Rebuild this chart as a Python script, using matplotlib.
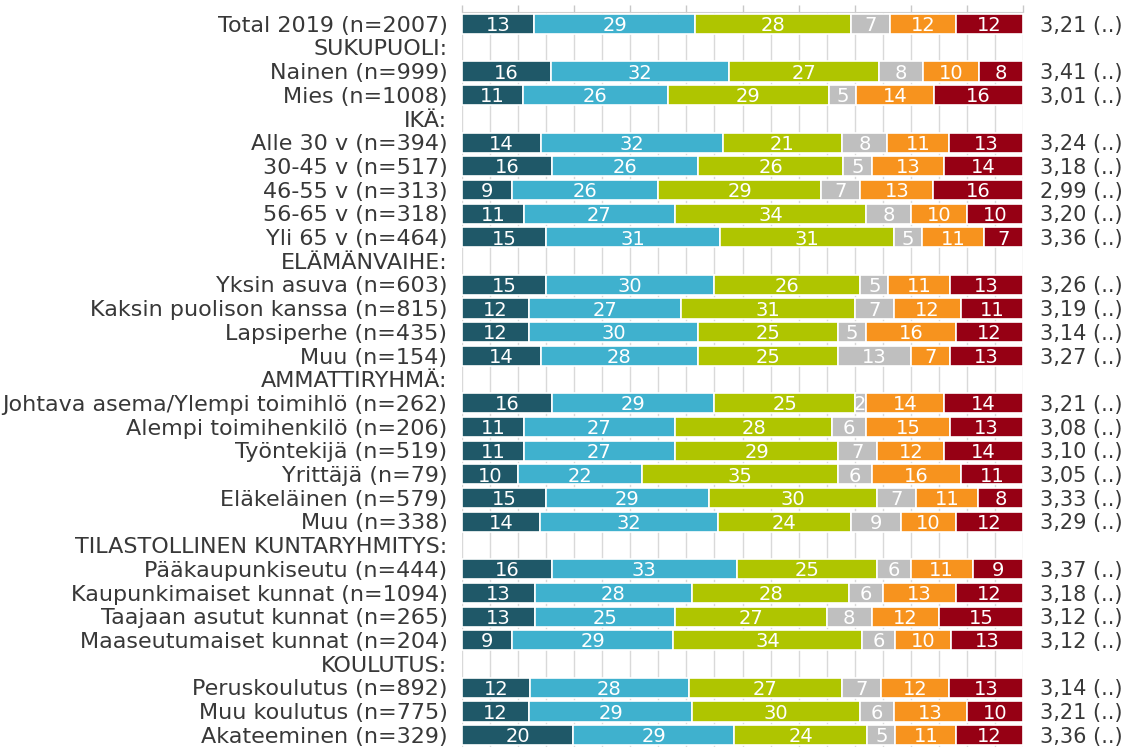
import numpy as np
import matplotlib.pyplot as plt
from matplotlib.ticker import MultipleLocator

plt.rcParams['font.family'] = ['DejaVu Sans']

# Row labels (group headers have no data)
labels = [
    "Total 2019 (n=2007)",
    "SUKUPUOLI:",
    "Nainen (n=999)", "Mies (n=1008)",
    "IKÄ:",
    "Alle 30 v (n=394)", "30-45 v (n=517)", "46-55 v (n=313)", "56-65 v (n=318)", "Yli 65 v (n=464)",
    "ELÄMÄNVAIHE:",
    "Yksin asuva (n=603)", "Kaksin puolison kanssa (n=815)", "Lapsiperhe (n=435)", "Muu (n=154)",
    "AMMATTIRYHMÄ:",
    "Johtava asema/Ylempi toimihlö (n=262)", "Alempi toimihenkilö (n=206)", "Työntekijä (n=519)",
    "Yrittäjä (n=79)", "Eläkeläinen (n=579)", "Muu (n=338)",
    "TILASTOLLINEN KUNTARYHMITYS:",
    "Pääkaupunkiseutu (n=444)", "Kaupunkimaiset kunnat (n=1094)", "Taajaan asutut kunnat (n=265)",
    "Maaseutumaiset kunnat (n=204)",
    "KOULUTUS:",
    "Peruskoulutus (n=892)", "Muu koulutus (n=775)", "Akateeminen (n=329)",
]

N = None
share_5 =   [13, N, 16, 11, N, 14, 16,  9, 11, 15, N, 15, 12, 12, 14, N, 16, 11, 11, 10, 15, 14, N, 16, 13, 13,  9, N, 12, 12, 20]
share_4 =   [29, N, 32, 26, N, 32, 26, 26, 27, 31, N, 30, 27, 30, 28, N, 29, 27, 27, 22, 29, 32, N, 33, 28, 25, 29, N, 28, 29, 29]
share_3 =   [28, N, 27, 29, N, 21, 26, 29, 34, 31, N, 26, 31, 25, 25, N, 25, 28, 29, 35, 30, 24, N, 25, 28, 27, 34, N, 27, 30, 24]
share_eos = [ 7, N,  8,  5, N,  8,  5,  7,  8,  5, N,  5,  7,  5, 13, N,  2,  6,  7,  6,  7,  9, N,  6,  6,  8,  6, N,  7,  6,  5]
share_2 =   [12, N, 10, 14, N, 11, 13, 13, 10, 11, N, 11, 12, 16,  7, N, 14, 15, 12, 16, 11, 10, N, 11, 13, 12, 10, N, 12, 13, 11]
share_1 =   [12, N,  8, 16, N, 13, 14, 16, 10,  7, N, 13, 11, 12, 13, N, 14, 13, 14, 11,  8, 12, N,  9, 12, 15, 13, N, 13, 10, 12]
means = ["3,21", N, "3,41", "3,01", N, "3,24", "3,18", "2,99", "3,20", "3,36", N,
         "3,26", "3,19", "3,14", "3,27", N, "3,21", "3,08", "3,10", "3,05", "3,33", "3,29", N,
         "3,37", "3,18", "3,12", "3,12", N, "3,14", "3,21", "3,36"]

series = [share_5, share_4, share_3, share_eos, share_2, share_1]
colors = ["#1f5868", "#3fb1ce", "#afc500", "#bfbfbf", "#f7931e", "#960014"]

fig = plt.figure(figsize=(11.3, 7.47), dpi=100)
ax = fig.add_axes([462 / 1130, 0, (1023 - 462) / 1130, (747 - 11.5) / 747])

text_color = "#383838"
fs = 16

for i, lab in enumerate(labels):
    ax.text(-2.6, i + 0.07, lab, ha="right", va="center", fontsize=fs, color=text_color, clip_on=False)
    if share_5[i] is None:
        continue
    vals = np.array([s[i] for s in series], dtype=float)
    widths = vals / vals.sum() * 100  # rows drawn as full 100 % bars
    left = 0.0
    for v, w, c in zip(vals, widths, colors):
        ax.barh(i, w, left=left, height=0.85, color=c, edgecolor="white", linewidth=1.2, zorder=3)
        ax.text(left + w / 2, i + 0.07, f"{int(v)}", ha="center", va="center",
                fontsize=14, color="white", zorder=4)
        left += w
    ax.text(103, i + 0.07, f"{means[i]} (..)", ha="left", va="center", fontsize=15,
            color=text_color, clip_on=False)

ax.set_xlim(0, 100)
ax.set_ylim(30.5, -0.53)
ax.xaxis.set_major_locator(MultipleLocator(10))
ax.xaxis.set_minor_locator(MultipleLocator(5))
ax.xaxis.tick_top()
ax.tick_params(axis="x", which="major", direction="out", length=5, width=1,
               color="#c8c8c8", labeltop=False)
ax.tick_params(axis="x", which="minor", length=0)
ax.set_yticks([])
ax.grid(axis="x", which="both", color="#d9d9d9", linewidth=1, zorder=0)
for side in ["left", "right", "bottom"]:
    ax.spines[side].set_visible(False)
ax.spines["top"].set_color("#d0d0d0")
ax.set_axisbelow(True)

fig.savefig("out.png", dpi=100)
